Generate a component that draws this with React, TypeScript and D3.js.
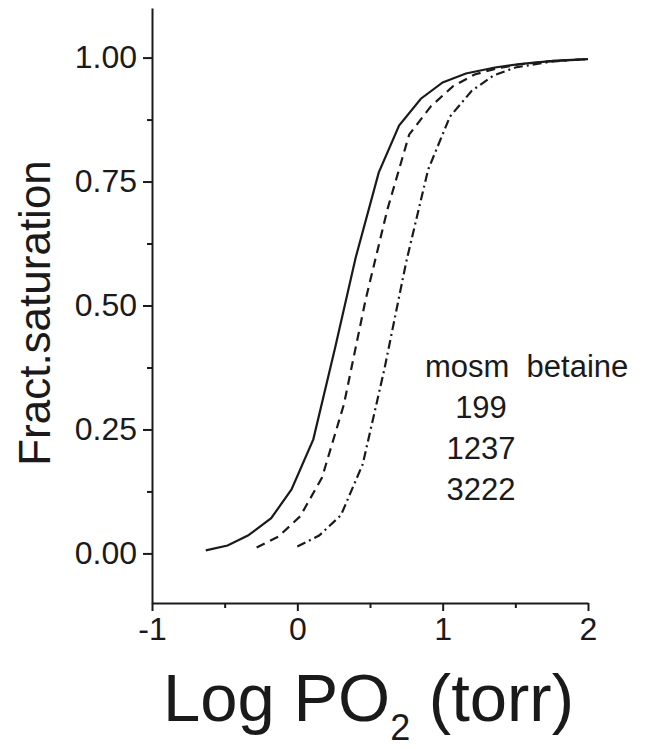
import React, { useEffect, useRef } from 'react';
import * as d3 from 'd3';

// values (log PO2 vs fractional saturation)
const solidX = [-0.63, -0.48, -0.34, -0.18, -0.04, 0.11, 0.26, 0.4, 0.56, 0.7, 0.85, 1.0, 1.16, 1.36, 1.56, 1.78, 2.0];
const solidY = [0.006, 0.016, 0.036, 0.071, 0.129, 0.23, 0.415, 0.595, 0.768, 0.863, 0.917, 0.95, 0.968, 0.98, 0.988, 0.994, 0.997];

const dashX = [-0.28, -0.13, 0.02, 0.17, 0.32, 0.47, 0.62, 0.77, 0.92, 1.07, 1.22, 1.37, 1.52, 1.75, 2.0];
const dashY = [0.012, 0.034, 0.075, 0.153, 0.3, 0.512, 0.694, 0.845, 0.902, 0.942, 0.966, 0.978, 0.986, 0.993, 0.997];

const dotX = [0.0, 0.15, 0.3, 0.45, 0.6, 0.75, 0.9, 1.05, 1.2, 1.35, 1.5, 1.75, 2.0];
const dotY = [0.014, 0.036, 0.077, 0.18, 0.373, 0.589, 0.774, 0.881, 0.933, 0.964, 0.98, 0.992, 0.997];

const xTicks = [-1, 0, 1, 2];
const xMinor = [-0.5, 0.5, 1.5];
const yTicks = [0, 0.25, 0.5, 0.75, 1.0];
const yMinor = [0.125, 0.375, 0.625, 0.875];

const legendHead = 'mosm  betaine';
const legendRows = ['199', '1237', '3222'];

const font = "'Liberation Sans', Arial, sans-serif";

export default function App() {
  const ref = useRef<SVGSVGElement>(null);

  useEffect(() => {
    const svg = d3.select(ref.current);
    svg.selectAll('*').remove();

    const x = d3.scaleLinear().domain([-1, 2]).range([152, 588]);
    const y = d3.scaleLinear().domain([-0.1, 1.1]).range([603, 8]);
    const ink = '#1a1a1a';

    // y axis
    const yAxis = svg.append('g').attr('transform', `translate(${x(-1)},0)`);
    yAxis.call(
      d3.axisLeft(y).tickValues(yTicks).tickSize(9).tickSizeOuter(0)
        .tickFormat((d) => d3.format('.2f')(d as number))
    );
    yAxis.append('g').call(d3.axisLeft(y).tickValues(yMinor).tickSize(5).tickFormat(() => '').tickSizeOuter(0))
      .select('.domain').remove();
    yAxis.selectAll('text').attr('font-size', 32).attr('font-family', font).attr('fill', ink).attr('x', -15);

    // x axis
    const xAxis = svg.append('g').attr('transform', `translate(0,${y(-0.1)})`);
    xAxis.call(d3.axisBottom(x).tickValues(xTicks).tickSize(8).tickSizeOuter(0).tickFormat((d) => String(d)));
    xAxis.append('g').call(d3.axisBottom(x).tickValues(xMinor).tickSize(5).tickFormat(() => '').tickSizeOuter(0))
      .select('.domain').remove();
    xAxis.selectAll('text').attr('font-size', 32).attr('font-family', font).attr('fill', ink).attr('y', 14);

    svg.selectAll('.domain').attr('stroke', ink).attr('stroke-width', 2);
    svg.selectAll('.tick line').attr('stroke', ink).attr('stroke-width', 2);

    // curves
    const line = d3.line<[number, number]>().x((d) => x(d[0])).y((d) => y(d[1]));
    const series: { xs: number[]; ys: number[]; dash: string | null }[] = [
      { xs: solidX, ys: solidY, dash: null },
      { xs: dashX, ys: dashY, dash: '9 6' },
      { xs: dotX, ys: dotY, dash: '9 4 2 4' },
    ];
    series.forEach((s) => {
      svg.append('path')
        .datum(d3.zip(s.xs, s.ys) as [number, number][])
        .attr('fill', 'none')
        .attr('stroke', ink)
        .attr('stroke-width', 2.2)
        .attr('stroke-dasharray', s.dash)
        .attr('d', line);
    });

    // legend text
    svg.append('text')
      .attr('x', 425).attr('y', 377)
      .attr('font-size', 31).attr('font-family', font).attr('fill', ink)
      .style('white-space', 'pre')
      .text(legendHead);
    legendRows.forEach((r, i) => {
      svg.append('text')
        .attr('x', 481).attr('y', 418 + i * 41)
        .attr('text-anchor', 'middle')
        .attr('font-size', 31).attr('font-family', font).attr('fill', ink)
        .text(r);
    });

    // axis titles
    svg.append('text')
      .attr('transform', 'translate(50,313) rotate(-90)')
      .attr('text-anchor', 'middle')
      .attr('font-size', 44).attr('font-family', font).attr('fill', ink)
      .text('Fract.saturation');

    const xt = svg.append('text')
      .attr('x', 163).attr('y', 721)
      .attr('font-size', 67).attr('font-family', font).attr('fill', ink);
    xt.append('tspan').text('Log PO');
    xt.append('tspan').attr('font-size', 36).attr('dy', 19).text('2');
    xt.append('tspan').attr('dy', -19).style('white-space', 'pre').text(' (torr)');
  }, []);

  return (
    <svg
      ref={ref}
      width={649}
      height={749}
      style={{ position: 'absolute', left: 0, top: 0, background: '#fff' }}
    />
  );
}
